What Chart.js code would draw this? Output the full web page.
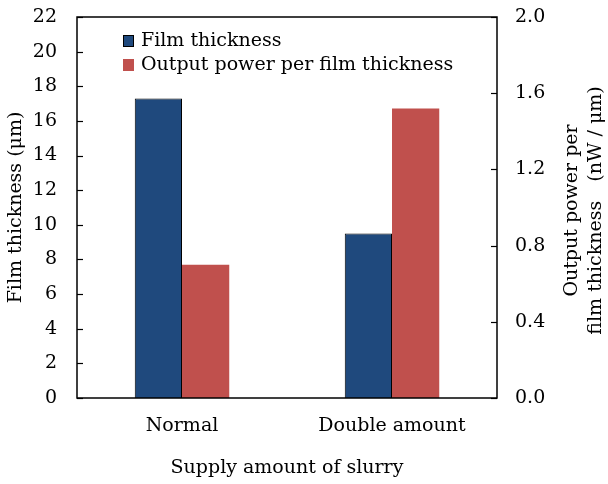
<!DOCTYPE html>
<html>
<head>
<meta charset="utf-8">
<script src="https://cdn.jsdelivr.net/npm/chart.js@4/dist/chart.umd.min.js"></script>
<style>
  html, body { margin: 0; padding: 0; background: #fff; }
  #wrap { width: 608px; height: 484px; }
</style>
</head>
<body>
<div id="wrap"><canvas id="chart" width="608" height="484"></canvas></div>
<script>
// Datos
const categorias = ['Normal', 'Double amount'];
const espesor = [17.3, 9.5];            // µm (eje izquierdo)
const potenciaPorEspesor = [0.70, 1.52]; // nW / µm (eje derecho)
const ticksIzq = [0, 2, 4, 6, 8, 10, 12, 14, 16, 18, 20, 22];
const ticksDer = [0.0, 0.4, 0.8, 1.2, 1.6, 2.0];

const FUENTE = 'DejaVu Serif';
const TAM = 19;
Chart.defaults.font.family = FUENTE;
Chart.defaults.font.size = TAM;
Chart.defaults.color = '#000';

// Marco, marcas hacia dentro, leyenda interna y título del eje derecho
const decoracion = {
    id: 'decoracion',
    afterDraw(chart) {
        const ctx = chart.ctx;
        const a = chart.chartArea;
        const y = chart.scales.y;
        const y1 = chart.scales.y1;
        ctx.save();
        ctx.strokeStyle = '#000';
        ctx.lineWidth = 1.5;
        ctx.strokeRect(a.left, a.top, a.right - a.left, a.bottom - a.top);

        ctx.lineWidth = 1.2;
        ticksIzq.forEach(v => {
            const py = Math.round(y.getPixelForValue(v)) + 0.5;
            ctx.beginPath();
            ctx.moveTo(a.left, py);
            ctx.lineTo(a.left + 6, py);
            ctx.stroke();
        });
        ticksDer.forEach(v => {
            const py = Math.round(y1.getPixelForValue(v)) + 0.5;
            ctx.beginPath();
            ctx.moveTo(a.right, py);
            ctx.lineTo(a.right - 6, py);
            ctx.stroke();
        });

        // leyenda
        ctx.font = TAM + 'px "' + FUENTE + '"';
        ctx.textBaseline = 'middle';
        ctx.textAlign = 'left';
        chart.data.datasets.forEach((ds, i) => {
            const cy = a.top + 24 + i * 24;
            ctx.fillStyle = ds.backgroundColor;
            ctx.fillRect(a.left + 46, cy - 6, 11, 12);
            if (ds.borderWidth) {
                ctx.strokeStyle = '#000';
                ctx.lineWidth = 1;
                ctx.strokeRect(a.left + 46.5, cy - 5.5, 10, 11);
            }
            ctx.fillStyle = '#000';
            ctx.fillText(ds.label, a.left + 64, cy);
        });

        // título del eje derecho (se lee de abajo hacia arriba)
        const cy = (a.top + a.bottom) / 2;
        ctx.translate(584, cy + 3);
        ctx.rotate(-Math.PI / 2);
        ctx.textAlign = 'center';
        ctx.fillText('Output power per', 0, -12);
        ctx.fillText('film thickness\u3000(nW / \u03bcm)', 0, 12);
        ctx.restore();
    }
};

const grafico = new Chart(document.getElementById('chart'), {
    type: 'bar',
    data: {
        labels: categorias,
        datasets: [{
            label: 'Film thickness',
            data: espesor,
            yAxisID: 'y',
            backgroundColor: '#1F497D',
            borderColor: '#000',
            borderWidth: 1
        }, {
            label: 'Output power per film thickness',
            data: potenciaPorEspesor,
            yAxisID: 'y1',
            backgroundColor: '#C0504D',
            borderWidth: 0
        }]
    },
    options: {
        responsive: false,
        animation: false,
        layout: { padding: { top: 17, left: 0, right: 0, bottom: 0 } },
        datasets: { bar: { barPercentage: 1, categoryPercentage: 0.45 } },
        plugins: { legend: { display: false }, tooltip: { enabled: false } },
        scales: {
            x: {
                grid: { display: false, drawTicks: false },
                border: { display: false },
                ticks: { padding: 17 },
                title: { display: true, text: 'Supply amount of slurry', padding: { top: 0, bottom: 5 } },
                afterFit(s) { s.height = 86; s.paddingLeft = 0; s.paddingRight = 0; }
            },
            y: {
                position: 'left',
                min: 0, max: 22,
                afterBuildTicks(s) { s.ticks = ticksIzq.map(v => ({ value: v })); },
                grid: { display: false, drawTicks: false },
                border: { display: false },
                ticks: { padding: 20 },
                title: { display: true, text: 'Film thickness (\u03bcm)', padding: { top: 5, bottom: 0 } },
                afterFit(s) { s.width = 77; s.paddingTop = 0; s.paddingBottom = 0; }
            },
            y1: {
                position: 'right',
                min: 0, max: 2.0,
                afterBuildTicks(s) { s.ticks = ticksDer.map(v => ({ value: v })); },
                grid: { display: false, drawTicks: false },
                border: { display: false },
                ticks: { padding: 18, callback: v => Number(v).toFixed(1) },
                afterFit(s) { s.width = 111; s.paddingTop = 0; s.paddingBottom = 0; }
            }
        }
    },
    plugins: [decoracion]
});
</script>
</body>
</html>
